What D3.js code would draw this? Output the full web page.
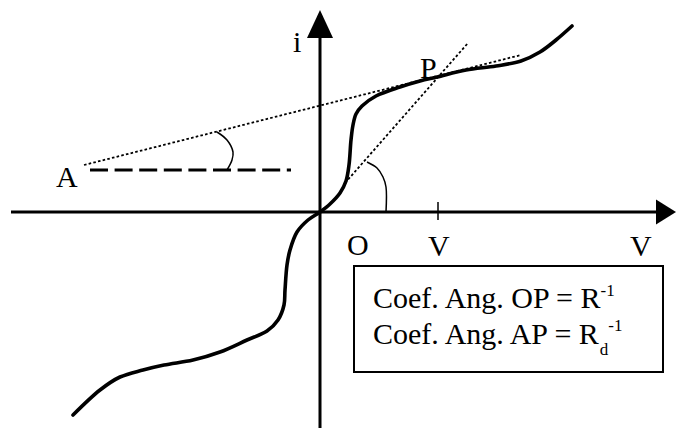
<!DOCTYPE html>
<html>
<head>
<meta charset="utf-8">
<script src="https://cdn.jsdelivr.net/npm/d3@7"></script>
<style>
  html, body { margin: 0; padding: 0; background: #fff; }
  svg { display: block; }
  text { font-family: "Liberation Serif", "Times New Roman", serif; fill: #000; }
</style>
</head>
<body>
<svg id="chart" width="676" height="428"></svg>
<script>
// ---- data (abstract units: 1 unit = one grid step, origin O) ----
const curveX = [-24.7, -22.0, -20.0, -17.7, -15.6, -12.7, -10.0, -7.3, -5.3, -4.2, -3.6, -3.5, -3.3, -3.0, -2.3, -1.2, 0, 1.0, 2.0, 2.6, 2.9, 3.1, 3.3, 3.6, 4.2, 5.6, 8.0, 10.0, 11.7, 14.6, 17.6, 20.1, 22.0, 23.6, 25.2];
const curveY = [-20.3, -17.8, -16.5, -15.8, -15.3, -14.8, -14.0, -12.8, -11.9, -10.8, -9.3, -7.8, -5.3, -3.8, -2.0, -0.8, 0, 0.8, 1.9, 3.1, 4.7, 7.2, 8.7, 9.8, 10.6, 11.6, 12.5, 13.1, 13.5, 14.2, 14.6, 15.1, 16.0, 17.2, 18.6];

const pointA = [-23.6, 4.7];
const pointP = [11.7, 13.5];
const tangentOPEnds = [[2.5, 2.9], [14.8, 16.9]];
const tangentAPEnds = [[-23.6, 4.7], [20.1, 15.7]];
const dashedEnds = [[-23.0, 4.2], [-2.9, 4.2]];
const arcAX = [-10.3, -9.3, -8.7, -8.8, -9.3];
const arcAY = [8.0, 7.2, 6.0, 5.2, 4.2];
const arcOX = [4.7, 5.7, 6.3, 6.6, 6.6];
const arcOY = [5.0, 4.4, 3.5, 2.5, 0];
const tickV = 11.8;

const xAxisExtent = [-30.9, 33.7];
const yAxisExtent = [-21.6, 17.5];

const labels = [
  { text: "i", x: -2.7, y: 16.0 },
  { text: "P", x: 10.0, y: 13.4 },
  { text: "A", x: -26.4, y: 2.5 },
  { text: "O", x: 2.7, y: -4.3 },
  { text: "V", x: 10.8, y: -4.4 },
  { text: "V", x: 31.0, y: -4.4 }
];
const boxLine1 = ["Coef. Ang. OP = R", "-1"];
const boxLine2 = ["Coef. Ang. AP = R", "d", "-1"];

// ---- scales ----
const W = 676, H = 428;
const x = d3.scaleLinear().domain([-32, 35.6]).range([0, W]);
const y = d3.scaleLinear().domain([21.2, -21.6]).range([0, H]);

const svg = d3.select("#chart");

// axes
svg.append("line")
  .attr("x1", x(xAxisExtent[0])).attr("x2", x(xAxisExtent[1]))
  .attr("y1", y(0)).attr("y2", y(0))
  .attr("stroke", "#000").attr("stroke-width", 3);
svg.append("path")
  .attr("d", `M${x(xAxisExtent[1]) - 1},${y(0) - 12.5} L${W},${y(0)} L${x(xAxisExtent[1]) - 1},${y(0) + 12.5} Z`)
  .attr("fill", "#000");
svg.append("line")
  .attr("x1", x(0)).attr("x2", x(0))
  .attr("y1", y(yAxisExtent[0])).attr("y2", y(yAxisExtent[1]))
  .attr("stroke", "#000").attr("stroke-width", 3);
svg.append("path")
  .attr("d", `M${x(0) - 13},${y(yAxisExtent[1]) + 1} L${x(0)},${y(yAxisExtent[1]) - 27} L${x(0) + 13},${y(yAxisExtent[1]) + 1} Z`)
  .attr("fill", "#000");

// V tick
svg.append("line")
  .attr("x1", x(tickV)).attr("x2", x(tickV))
  .attr("y1", y(0) - 10).attr("y2", y(0) + 8)
  .attr("stroke", "#000").attr("stroke-width", 1.5);

// dashed horizontal from A
svg.append("line")
  .attr("x1", x(dashedEnds[0][0])).attr("x2", x(dashedEnds[1][0]))
  .attr("y1", y(dashedEnds[0][1])).attr("y2", y(dashedEnds[1][1]))
  .attr("stroke", "#000").attr("stroke-width", 3)
  .attr("stroke-dasharray", "18,6.6");

// dotted tangents
[tangentOPEnds, tangentAPEnds].forEach(ends => {
  svg.append("line")
    .attr("x1", x(ends[0][0])).attr("y1", y(ends[0][1]))
    .attr("x2", x(ends[1][0])).attr("y2", y(ends[1][1]))
    .attr("stroke", "#000").attr("stroke-width", 1.8)
    .attr("stroke-dasharray", "2.6,2.2");
});

// angle arcs
const arcLine = d3.line().x(d => x(d[0])).y(d => y(d[1])).curve(d3.curveCatmullRom.alpha(0.5));
svg.append("path")
  .attr("d", arcLine(arcAX.map((v, i) => [v, arcAY[i]])))
  .attr("fill", "none").attr("stroke", "#000").attr("stroke-width", 1.5);
svg.append("path")
  .attr("d", arcLine(arcOX.map((v, i) => [v, arcOY[i]])))
  .attr("fill", "none").attr("stroke", "#000").attr("stroke-width", 1.5);

// characteristic curve
const curveLine = d3.line().x(d => x(d[0])).y(d => y(d[1])).curve(d3.curveCatmullRom.alpha(0.5));
svg.append("path")
  .attr("d", curveLine(curveX.map((v, i) => [v, curveY[i]])))
  .attr("fill", "none").attr("stroke", "#000").attr("stroke-width", 3.6)
  .attr("stroke-linecap", "round");

// labels
svg.selectAll("text.lbl").data(labels).enter().append("text")
  .attr("class", "lbl")
  .attr("x", d => x(d.x)).attr("y", d => y(d.y))
  .attr("font-size", 30)
  .text(d => d.text);

// box
svg.append("rect")
  .attr("x", x(3.4)).attr("y", y(-5.4))
  .attr("width", x(34.3) - x(3.4)).attr("height", y(-16.0) - y(-5.4))
  .attr("fill", "#fff").attr("stroke", "#000").attr("stroke-width", 2);

const t1 = svg.append("text").attr("x", x(5.3)).attr("y", y(-9.6)).attr("font-size", 30);
t1.append("tspan").text(boxLine1[0]);
t1.append("tspan").attr("font-size", 17).attr("dy", -12).text(boxLine1[1]);

const t2 = svg.append("text").attr("x", x(5.3)).attr("y", y(-13.2)).attr("font-size", 30);
t2.append("tspan").text(boxLine2[0]);
t2.append("tspan").attr("font-size", 17).attr("dy", 11).attr("dx", 1).text(boxLine2[1]);
t2.append("tspan").attr("font-size", 17).attr("dy", -24).attr("dx", 0).text(boxLine2[2]);
</script>
</body>
</html>
